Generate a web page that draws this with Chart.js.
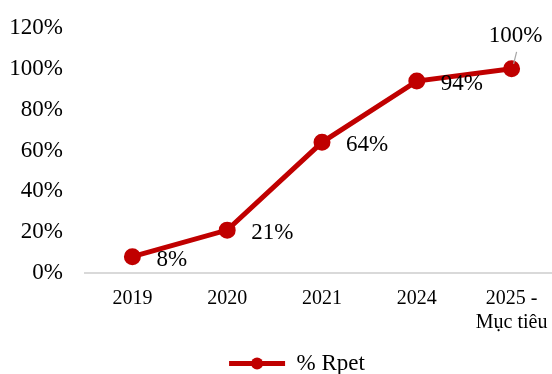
<!DOCTYPE html>
<html>
<head>
<meta charset="utf-8">
<script src="https://cdn.jsdelivr.net/npm/chart.js@4"></script>
<style>
    html, body { margin: 0; padding: 0; overflow: hidden; background: #fff; }
    #wrap { width: 570px; height: 374px; }
</style>
</head>
<body>
<div id="wrap"><canvas id="rpetChart" width="570" height="374"></canvas></div>
<script>
const years = ['2019', '2020', '2021', '2024', ['2025 -', 'Mục tiêu']];
const rpetValues = [8, 21, 64, 94, 100];
const yTicks = [0, 20, 40, 60, 80, 100, 120];
const seriesName = '% Rpet';

const serif = '"Liberation Serif", "Times New Roman", serif';
const red = '#C00000';

// labels next to each point, last one sits above with a small leader line
const pointLabels = {
    id: 'pointLabels',
    afterDatasetsDraw(chart) {
        const ctx = chart.ctx;
        const pts = chart.getDatasetMeta(0).data;
        ctx.save();
        ctx.font = '23px ' + serif;
        ctx.fillStyle = '#000';
        ctx.textBaseline = 'middle';
        pts.forEach(function (p, i) {
            const txt = rpetValues[i] + '%';
            if (i === pts.length - 1) {
                ctx.strokeStyle = '#a6a6a6';
                ctx.lineWidth = 1.2;
                ctx.beginPath();
                ctx.moveTo(p.x + 5, p.y - 17);
                ctx.lineTo(p.x + 2, p.y - 5);
                ctx.stroke();
                ctx.textAlign = 'center';
                ctx.fillText(txt, p.x + 4, p.y - 33);
            } else {
                ctx.textAlign = 'left';
                ctx.fillText(txt, p.x + 24, p.y + 3);
            }
        });
        ctx.restore();
    }
};

// nudge the legend a little, the original is not centred on the canvas
const legendShift = {
    id: 'legendShift',
    afterLayout(chart) {
        const lg = chart.legend;
        if (lg) {
            lg.left += 12;
            lg.right += 12;
            lg.top += 11;
            lg.bottom += 11;
        }
    }
};

// dot in the middle of the legend line
const legendDot = {
    id: 'legendDot',
    afterDraw(chart) {
        const lg = chart.legend;
        if (!lg || !lg.legendHitBoxes.length) return;
        const hb = lg.legendHitBoxes[0];
        const ctx = chart.ctx;
        ctx.save();
        ctx.fillStyle = red;
        ctx.beginPath();
        ctx.arc(hb.left + 28, hb.top + hb.height / 2, 6, 0, Math.PI * 2);
        ctx.fill();
        ctx.restore();
    }
};

const ctx = document.getElementById('rpetChart').getContext('2d');

new Chart(ctx, {
    type: 'line',
    data: {
        labels: years,
        datasets: [{
            label: seriesName,
            data: rpetValues,
            borderColor: red,
            backgroundColor: red,
            borderWidth: 5,
            pointRadius: 6,
            pointHoverRadius: 6,
            pointBackgroundColor: red,
            pointBorderColor: red,
            tension: 0
        }]
    },
    options: {
        responsive: false,
        animation: false,
        layout: { padding: { top: 28, left: 0, right: 0, bottom: 0 } },
        plugins: {
            tooltip: { enabled: false },
            legend: {
                position: 'bottom',
                labels: {
                    font: { family: serif, size: 23 },
                    color: '#000',
                    boxWidth: 56,
                    boxHeight: 5,
                    padding: 4,
                    generateLabels: function (chart) {
                        return [{
                            text: seriesName,
                            fillStyle: red,
                            strokeStyle: red,
                            lineWidth: 0,
                            datasetIndex: 0
                        }];
                    }
                }
            }
        },
        scales: {
            x: {
                offset: true,
                afterFit: function (scale) {
                    scale.height = 64;
                    scale.paddingLeft = 0;
                    scale.paddingRight = 0;
                },
                grid: { display: false, drawTicks: false },
                border: { display: true, color: '#d9d9d9', width: 2 },
                ticks: {
                    color: '#000',
                    font: { family: serif, size: 20 },
                    padding: 14,
                    maxRotation: 0
                }
            },
            y: {
                min: 0,
                max: 120,
                afterBuildTicks: function (scale) {
                    scale.ticks = yTicks.map(function (v) { return { value: v }; });
                },
                afterFit: function (scale) {
                    scale.width = 85;
                    scale.paddingTop = 0;
                    scale.paddingBottom = 0;
                },
                grid: { display: false, drawTicks: false },
                border: { display: false },
                ticks: {
                    color: '#000',
                    font: { family: serif, size: 23 },
                    padding: 22,
                    callback: function (v) { return v + '%'; }
                }
            }
        }
    },
    plugins: [pointLabels, legendShift, legendDot]
});
</script>
</body>
</html>
